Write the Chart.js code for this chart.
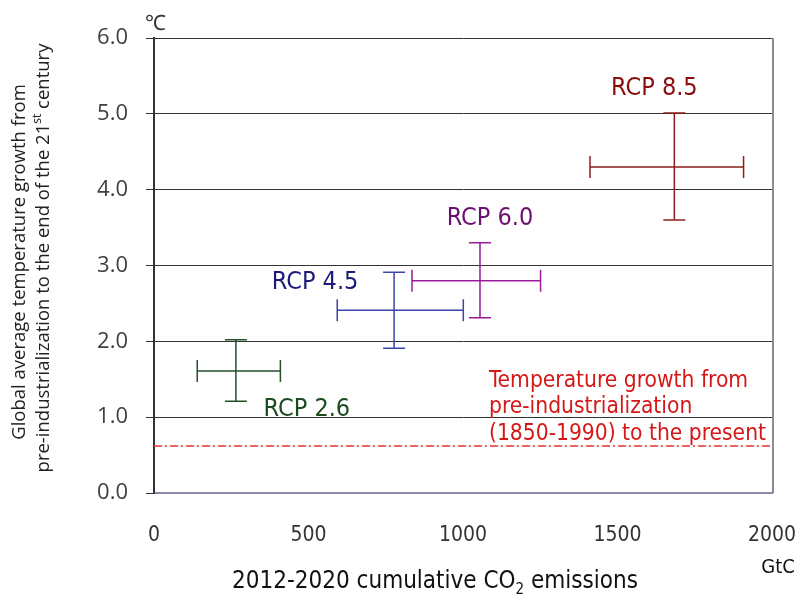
<!DOCTYPE html>
<html lang="en">
<head>
  <meta charset="UTF-8" />
  <script src="https://cdn.jsdelivr.net/npm/chart.js"></script>
  <title>Temperature growth vs cumulative CO2 emissions</title>
  <style>
    html, body { margin: 0; padding: 0; background: #fff; }
    #wrap { width: 799px; height: 599px; }
  </style>
</head>
<body>
  <div id="wrap"><canvas id="grafico" width="799" height="599"></canvas></div>
  <script>
    // datos
    const scenarios = ['RCP 2.6', 'RCP 4.5', 'RCP 6.0', 'RCP 8.5'];
    const emissions = [265, 777, 1055, 1684];       // GtC, centro
    const emissionsLow = [140, 593, 835, 1411];
    const emissionsHigh = [409, 1001, 1251, 1908];
    const tempRise = [1.61, 2.41, 2.80, 4.30];      // grados C, centro
    const tempLow = [1.21, 1.91, 2.31, 3.60];
    const tempHigh = [2.02, 2.91, 3.30, 5.01];
    const presentRise = 0.62;
    const xTicks = [0, 500, 1000, 1500, 2000];
    const yTicks = [0, 1, 2, 3, 4, 5, 6];

    const barColors = ['#24502a', '#3b46a8', '#9a1a9a', '#8e1c1c'];
    const textColors = ['#1a4a1f', '#1c1c78', '#6c1070', '#8a0c0c'];
    // desplazamiento de cada etiqueta respecto al centro (px)
    const labelOffsets = [[71, 39], [-79, -28], [10, -62], [-20, -78]];

    const COND = '"DejaVu Sans Condensed", "DejaVu Sans", sans-serif';
    const OPEN = '"Open Sans", sans-serif';

    const errorBars = {
      id: 'errorBars',
      afterDatasetsDraw(chart) {
        const { ctx, scales: { x, y }, chartArea } = chart;
        ctx.save();
        // borde derecho
        ctx.strokeStyle = '#666';
        ctx.lineWidth = 1.5;
        ctx.beginPath();
        ctx.moveTo(chartArea.right + 1, chartArea.top);
        ctx.lineTo(chartArea.right + 1, chartArea.bottom);
        ctx.stroke();

        scenarios.forEach((name, i) => {
          const cx = x.getPixelForValue(emissions[i]);
          const cy = y.getPixelForValue(tempRise[i]);
          const x0 = x.getPixelForValue(emissionsLow[i]);
          const x1 = x.getPixelForValue(emissionsHigh[i]);
          const y0 = y.getPixelForValue(tempLow[i]);
          const y1 = y.getPixelForValue(tempHigh[i]);
          const cap = 11;
          ctx.strokeStyle = barColors[i];
          ctx.lineWidth = 1.5;
          ctx.beginPath();
          ctx.moveTo(x0, cy); ctx.lineTo(x1, cy);
          ctx.moveTo(cx, y0); ctx.lineTo(cx, y1);
          ctx.moveTo(x0, cy - cap); ctx.lineTo(x0, cy + cap);
          ctx.moveTo(x1, cy - cap); ctx.lineTo(x1, cy + cap);
          ctx.moveTo(cx - cap, y0); ctx.lineTo(cx + cap, y0);
          ctx.moveTo(cx - cap, y1); ctx.lineTo(cx + cap, y1);
          ctx.stroke();

          ctx.fillStyle = textColors[i];
          ctx.font = '25px ' + COND;
          ctx.textAlign = 'center';
          ctx.textBaseline = 'middle';
          ctx.fillText(name, cx + labelOffsets[i][0], cy + labelOffsets[i][1]);
        });

        // texto rojo
        ctx.fillStyle = '#d41818';
        ctx.font = '22.6px ' + COND;
        ctx.textAlign = 'left';
        ctx.textBaseline = 'middle';
        const lines = ['Temperature growth from', 'pre-industrialization', '(1850-1990) to the present'];
        lines.forEach((t, k) => ctx.fillText(t, 489, 381 + k * 26.5));
        ctx.restore();
      },
      afterDraw(chart) {
        const { ctx } = chart;
        ctx.save();
        ctx.fillStyle = '#333';
        ctx.textBaseline = 'middle';
        // unidad eje y
        ctx.font = '21px ' + OPEN;
        ctx.textAlign = 'left';
        ctx.fillText('\u2103', 145, 24);
        // unidad eje x
        ctx.font = '20px ' + COND;
        ctx.textAlign = 'center';
        ctx.fillStyle = '#111';
        ctx.fillText('GtC', 778, 568);

        // titulo eje x con subindice
        ctx.font = '24px ' + COND;
        const a = '2012-2020 cumulative CO', b = '2', c = ' emissions';
        const wa = ctx.measureText(a).width, wc = ctx.measureText(c).width;
        ctx.font = '15px ' + COND;
        const wb = ctx.measureText(b).width;
        let sx = 435 - (wa + wb + wc) / 2;
        ctx.textAlign = 'left';
        ctx.font = '24px ' + COND;
        ctx.fillText(a, sx, 582);
        ctx.font = '15px ' + COND;
        ctx.fillText(b, sx + wa, 590);
        ctx.font = '24px ' + COND;
        ctx.fillText(c, sx + wa + wb, 582);

        // titulo eje y (dos lineas rotadas)
        ctx.fillStyle = '#222';
        ctx.save();
        ctx.translate(20, 262);
        ctx.rotate(-Math.PI / 2);
        ctx.font = '18.5px ' + OPEN;
        ctx.textAlign = 'center';
        ctx.fillText('Global average temperature growth from', 0, 0);
        ctx.restore();

        ctx.save();
        ctx.translate(44, 258);
        ctx.rotate(-Math.PI / 2);
        ctx.font = '18.5px ' + OPEN;
        const p1 = 'pre-industrialization to the end of the 21', p2 = 'st', p3 = ' century';
        const w1 = ctx.measureText(p1).width, w3 = ctx.measureText(p3).width;
        ctx.font = '12px ' + OPEN;
        const w2 = ctx.measureText(p2).width;
        let s = -(w1 + w2 + w3) / 2;
        ctx.textAlign = 'left';
        ctx.font = '18.5px ' + OPEN;
        ctx.fillText(p1, s, 0);
        ctx.font = '12px ' + OPEN;
        ctx.fillText(p2, s + w1, -6);
        ctx.font = '18.5px ' + OPEN;
        ctx.fillText(p3, s + w1 + w2, 0);
        ctx.restore();
        ctx.restore();
      }
    };

    const ctx = document.getElementById('grafico').getContext('2d');
    new Chart(ctx, {
      type: 'scatter',
      data: {
        datasets: [
          {
            label: 'present',
            type: 'line',
            data: [{ x: xTicks[0], y: presentRise }, { x: xTicks[xTicks.length - 1], y: presentRise }],
            borderColor: '#e83030',
            borderWidth: 1.5,
            borderDash: [8, 3, 2, 3],
            pointRadius: 0,
            fill: false
          },
          {
            label: 'centros',
            data: scenarios.map((s, i) => ({ x: emissions[i], y: tempRise[i] })),
            pointRadius: 0
          }
        ]
      },
      options: {
        responsive: false,
        animation: false,
        layout: { padding: { left: 0, top: 38, right: 27, bottom: 0 } },
        plugins: { legend: { display: false }, tooltip: { enabled: false } },
        scales: {
          x: {
            type: 'linear',
            min: 0,
            max: 2000,
            afterBuildTicks: scale => { scale.ticks = xTicks.map(v => ({ value: v })); },
            afterFit: scale => {
              scale.height = 106;
              scale.paddingLeft = 0;
              scale.paddingRight = 0;
            },
            grid: { display: false, drawTicks: false },
            border: { display: true, color: '#8a8aaa', width: 2 },
            ticks: {
              padding: 30,
              color: '#333',
              font: { family: COND, size: 21 },
              maxRotation: 0,
              callback: v => String(v)
            }
          },
          y: {
            type: 'linear',
            min: 0,
            max: 6,
            afterBuildTicks: scale => { scale.ticks = yTicks.map(v => ({ value: v })); },
            afterFit: scale => {
              scale.width = 154;
              scale.paddingTop = 0;
              scale.paddingBottom = 0;
            },
            grid: { color: '#333', lineWidth: 1, tickLength: 8, drawTicks: true },
            border: { display: true, color: '#333', width: 2 },
            ticks: {
              padding: 18,
              color: '#404040',
              font: { family: OPEN, size: 22 },
              callback: v => v.toFixed(1)
            }
          }
        }
      },
      plugins: [errorBars]
    });
  </script>
</body>
</html>
